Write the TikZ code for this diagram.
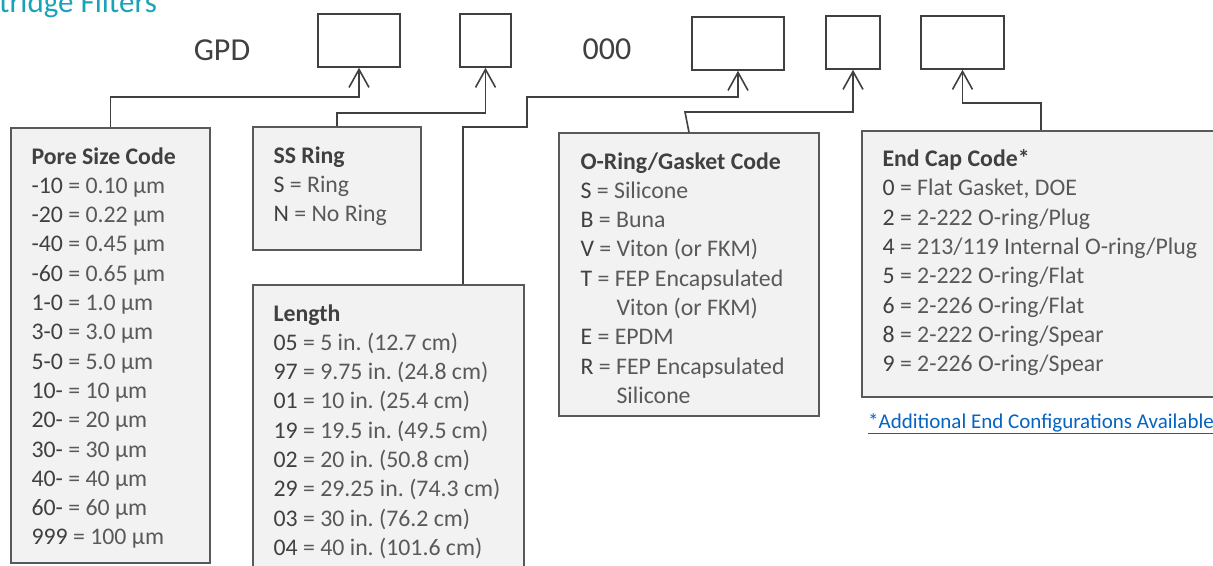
\documentclass[tikz,border=0pt]{standalone}
\usepackage{fontspec}
\setmainfont{Carlito}
\usetikzlibrary{arrows.meta}
\definecolor{inkgray}{HTML}{404040}
\definecolor{softgray}{HTML}{595959}
\definecolor{boxfill}{HTML}{F2F2F2}
\definecolor{titleteal}{HTML}{1AA3B8}
\definecolor{linkblue}{HTML}{0563C1}
\newcommand{\cd}[1]{\textcolor{inkgray}{#1}}
\newcommand{\hd}[1]{\strut\textbf{\textcolor{inkgray}{#1}}}
\frenchspacing
\begin{document}
\begin{tikzpicture}[x=1pt,y=-1pt,
  slot/.style={draw=inkgray,line width=1.6pt,fill=white,minimum width=#1,minimum height=53pt,inner sep=0pt},
  codebox/.style={draw=softgray,line width=1.3pt,fill=boxfill,inner sep=0pt},
  codetext/.style={anchor=north west,inner sep=0pt,align=left,text=softgray,font=\fontsize{23.8}{29.3}\selectfont},
  link/.style={draw=inkgray,line width=1.6pt},
  tip/.style={-{Straight Barb[length=18pt,width=20pt]}}]
\useasboundingbox (0,0) rectangle (1213,565);
\clip (0,0) rectangle (1213,565);
% title and part number
\node[anchor=base west,inner sep=0pt,text=titleteal,font=\fontsize{31}{36}\selectfont] (title) at (-1,12.5) {tridge Filters};
\node[anchor=base,text=inkgray,font=\fontsize{32}{38}\selectfont] (gpd) at (222,60) {GPD};
\node[anchor=base,text=inkgray,font=\fontsize{32}{38}\selectfont] (zeros) at (607,59) {000};
\node[slot=82pt] (b1) at (359,40.5) {};
\node[slot=51pt] (b2) at (485.5,40.5) {};
\node[slot=92pt] (b3) at (738,43.5) {};
\node[slot=54pt] (b4) at (853,42.5) {};
\node[slot=83pt] (b5) at (962.5,42.5) {};
% code boxes
\node[codebox,minimum width=199pt,minimum height=435pt] (pore) at (110.5,345.5) {};
\node[codebox,minimum width=168pt,minimum height=123pt] (ring) at (337,188.5) {};
\node[codebox,minimum width=271pt,minimum height=335pt] (len) at (388.5,452.5) {};
\node[codebox,minimum width=260pt,minimum height=283pt] (oring) at (689,274.5) {};
\node[codebox,minimum width=358pt,minimum height=266pt] (cap) at (1041,264) {};
\node[codetext] (poretxt) at ([shift={(21pt,-16pt)}]pore.north west) {\hd{Pore Size Code}\\
  \cd{-10} = 0.10 µm\\ \cd{-20} = 0.22 µm\\ \cd{-40} = 0.45 µm\\ \cd{-60} = 0.65 µm\\
  \cd{1-0} = 1.0 µm\\ \cd{3-0} = 3.0 µm\\ \cd{5-0} = 5.0 µm\\ \cd{10-} = 10 µm\\
  \cd{20-} = 20 µm\\ \cd{30-} = 30 µm\\ \cd{40-} = 40 µm\\ \cd{60-} = 60 µm\\
  \cd{999} = 100 µm};
\node[codetext] (ringtxt) at ([shift={(21pt,-16pt)}]ring.north west) {\hd{SS Ring}\\
  \cd{S} = Ring\\ \cd{N} = No Ring};
\node[codetext] (lentxt) at ([shift={(21pt,-16pt)}]len.north west) {\hd{Length}\\
  \cd{05} = 5 in. (12.7 cm)\\ \cd{97} = 9.75 in. (24.8 cm)\\ \cd{01} = 10 in. (25.4 cm)\\
  \cd{19} = 19.5 in. (49.5 cm)\\ \cd{02} = 20 in. (50.8 cm)\\ \cd{29} = 29.25 in. (74.3 cm)\\
  \cd{03} = 30 in. (76.2 cm)\\ \cd{04} = 40 in. (101.6 cm)};
\node[codetext] (oringtxt) at ([shift={(22pt,-16pt)}]oring.north west) {\hd{O-Ring/Gasket Code}\\
  \cd{S} = Silicone\\ \cd{B} = Buna\\ \cd{V} = Viton (or FKM)\\
  \cd{T} = FEP Encapsulated\\ \hspace*{36pt}Viton (or FKM)\\ \cd{E} = EPDM\\
  \cd{R} = FEP Encapsulated\\ \hspace*{36pt}Silicone};
\node[codetext] (captxt) at ([shift={(21pt,-15.5pt)}]cap.north west) {\hd{End Cap Code*}\\
  \cd{0} = Flat Gasket, DOE\\ \cd{2} = 2-222 O-ring/Plug\\ \cd{4} = 213/119 Internal O-ring/Plug\\
  \cd{5} = 2-222 O-ring/Flat\\ \cd{6} = 2-226 O-ring/Flat\\ \cd{8} = 2-222 O-ring/Spear\\
  \cd{9} = 2-226 O-ring/Spear};
\node[anchor=base west,inner sep=0pt,text=linkblue,font=\fontsize{21}{25}\selectfont] (note) at (868,428) {\underline{*Additional End Configurations Available}};
% connectors
\draw[link,tip] (pore.north) -- (pore.north |- 0,97) -| (b1.south);
\draw[link,tip] (ring.north) -- (ring.north |- 0,113) -| (b2.south);
\draw[link,tip] (len.north -| 463,0) -- (463,127) -| (527,97) -| (b3.south);
\draw[link,tip] (oring.north) -- (685,112) -| (b4.south);
\draw[link,tip] (cap.north) -- (cap.north |- 0,103) -| (b5.south);
\end{tikzpicture}
\end{document}
